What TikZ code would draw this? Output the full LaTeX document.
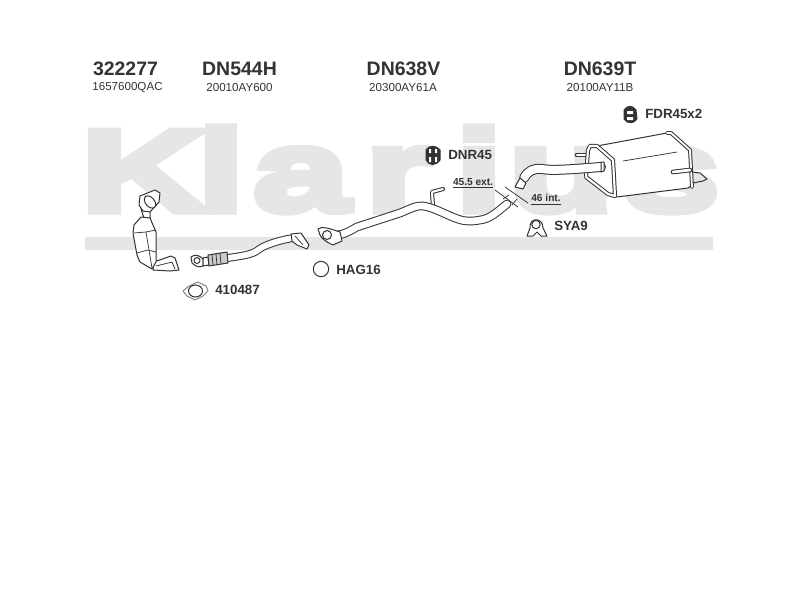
\documentclass[tikz,border=0pt]{standalone}
\usepackage{fontspec}
\usetikzlibrary{shapes.geometric}
\setmainfont{Liberation Sans}
\newfontfamily\wmfont[FakeStretch=1.52,FakeBold=7]{Liberation Sans Bold}
\definecolor{ink}{HTML}{333333}
\definecolor{wm}{HTML}{E6E6E6}
\tikzset{
  x=0.75pt,y=-0.75pt,
  pipe/.style={draw=ink,double=white,double distance=#1,line width=0.75pt,line cap=round,line join=round},
  pipe/.default=4pt,
  part/.style={draw=ink,line width=0.75pt,fill=white,line join=round},
  thin line/.style={draw=ink,line width=0.55pt},
  title/.style={anchor=center,text=ink,font=\fontsize{14.6}{16}\selectfont\bfseries,inner sep=0pt},
  sub/.style={anchor=center,text=ink,font=\fontsize{8.7}{10}\selectfont,inner sep=0pt},
  tag/.style={anchor=west,text=ink,font=\fontsize{10}{11}\selectfont\bfseries,inner sep=0pt},
  dim/.style={anchor=center,text=ink,font=\fontsize{7.6}{8}\selectfont\bfseries,inner sep=0pt}
}
\begin{document}
\begin{tikzpicture}
\useasboundingbox[fill=white] (0,0) rectangle (800,600);
% watermark
\node[anchor=base west,inner sep=0pt,text=wm,font=\wmfont\fontsize{86}{86}\selectfont] (mark) at (80,210.5) {K\kern-7pt l\kern5.8pt a\kern11.2pt r\kern16.6pt i\kern3.5pt u\kern7pt s};
\fill[wm] (85,237) rectangle (713,250);
% headings
\node[title] (t1) at (125.5,69) {322277};
\node[title] (t2) at (239.5,69) {DN544H};
\node[title] (t3) at (403.5,69) {DN638V};
\node[title] (t4) at (600,69) {DN639T};
\node[sub] (s1) at (127.5,88) {1657600QAC};
\node[sub] (s2) at (239.5,88) {20010AY600};
\node[sub] (s3) at (403,88) {20300AY61A};
\node[sub] (s4) at (600,88) {20100AY11B};
% catalytic converter
\draw[part] (141,209) -- (144,218) -- (150,218) -- (150,209) -- cycle;
\draw[part] (140,196) -- (155,190) -- (160,193) -- (159,202) -- (150,212) -- (143,211) -- (139,205) -- cycle;
\draw[part,rotate around={-50:(150,202)}] (150,202) ellipse (7 and 4.5);
\draw[part] (154,262) -- (171,256) -- (175,258) -- (179,270) -- (170,271) -- (153,270) -- cycle;
\draw[thin line] (156,266) -- (172,262) -- (175,269);
\draw[part] (141,217) -- (134,225) -- (133,233) -- (137,255) -- (140,262) -- (152,269) -- (156,262) -- (156,232) -- (150,218) -- cycle;
\draw[thin line] (134,233) -- (146,232) -- (156,230);
\draw[thin line] (146,232) -- (152,268);
\draw[thin line] (137,253) -- (148,250) -- (156,252);
% flex pipe
\draw[pipe=4.4pt] (228,258) .. controls (240,256) and (252,255) .. (258,250) .. controls (264,245) and (280,240) .. (293,238);
\draw[part] (291,234) -- (301,233) -- (309,245) -- (307,249) -- (297,245) -- (292,241) -- cycle;
\draw[thin line] (295,236) -- (303,245);
\draw[part] (191,257) .. controls (195,254) and (199,255) .. (203,259) -- (203,266) .. controls (199,268) and (195,266) .. (192,263) -- cycle;
\draw[part] (197,260.5) circle (3);
\draw[part] (203,258) -- (208,257) -- (209,265) -- (203,266) -- cycle;
\draw[part,fill=ink!25] (208,255) -- (227,252) -- (228,263) -- (209,266) -- cycle;
\draw[thin line] (212,254) -- (213,265) (216,254) -- (217,265) (220,253) -- (221,264);
% HAG16 + gasket
\node[draw=ink,line width=0.75pt,circle,minimum size=11.5pt,inner sep=0pt] (hag) at (321,269) {};
\node[tag] (hagt) at (336,270) {HAG16};
\draw[part,draw=ink!60] (183,291) -- (189,286) -- (198,282) -- (206,286) -- (208,291) -- (203,296) -- (195,300) -- (187,296) -- cycle;
\node[draw=ink,line width=0.75pt,ellipse,minimum width=10.5pt,minimum height=9pt,inner sep=0pt] (gas) at (195.5,291) {};
\node[tag] (gast) at (215,290) {410487};
% middle pipe
\draw[pipe=1.6pt] (433,207) -- (432,192) -- (443,189);
\draw[pipe=5pt] (338,235) .. controls (345,234) and (350,231) .. (357,227) -- (400,213) .. controls (410,209) and (417,205) .. (423,206) .. controls (432,207) and (445,214) .. (455,218) .. controls (462,221) and (470,222) .. (480,220) .. controls (490,219) and (497,212) .. (507,204);
\draw[part] (318,229) .. controls (322,226) and (328,228) .. (340,232) -- (342,241) -- (333,245) .. controls (326,242) and (321,238) .. (320,235) -- cycle;
\draw[part] (327,235) circle (4.5);
% rear pipe and silencer
\draw[pipe=2pt] (577,155) -- (592,155);
\draw[part] (597,146) -- (667,133) -- (671,133) -- (690,150) -- (692,185) -- (688,188) -- (617,197) -- (608,195) -- (590,160) -- cycle;
\draw[pipe=1.6pt,fill=white] (590,146) -- (597,146) -- (613,160) -- (615,196) -- (608,194) -- (586,177) -- (588,150) -- cycle;
\draw[pipe=1.4pt] (667,133) -- (671,133) -- (690,150) -- (692,187);
\draw[thin line] (623,161) -- (677,152);
\draw[pipe=6pt] (524,178) .. controls (528,171) and (533,168) .. (542,169) .. controls (552,171) and (575,169) .. (601,167);
\draw[part] (601,162) -- (604,162) -- (604,171) -- (601,172) -- cycle;
\draw[part] (515,187) -- (520,178) -- (526,183) -- (523,189) -- cycle;
\draw[pipe=2pt] (673,172) -- (690,170);
\draw[draw=ink,line width=0.75pt,line join=round] (692,172) -- (700,173) -- (707,179) -- (703,181) -- (693,183);
% cut marks
\coordinate (c1a) at (495,190); \coordinate (c1b) at (518,207);
\coordinate (c2a) at (505,187); \coordinate (c2b) at (528,203);
\draw[thin line] (c1a) -- (c1b) (c2a) -- (c2b);
\draw[thin line] (503,199) -- (509,195) (512,205) -- (517,199);
\node[dim] (ext) at (473,182) {45.5 ext.};
\draw[thin line] (453,187) -- (493,187);
\node[dim] (int) at (546,198) {46 int.};
\draw[thin line] (531,204) -- (561,204);
% DNR45
\draw[part,fill=ink] (426,150) .. controls (429,145) and (436,145) .. (440,150) -- (440,160) .. controls (436,166) and (429,166) .. (426,160) -- cycle;
\fill[white] (429,149) rectangle (431,153) (435,149) rectangle (437,153) (429,157) rectangle (431,162) (435,157) rectangle (437,162);
\node[tag] (dnr) at (448,155) {DNR45};
% FDR45x2
\draw[part,fill=ink] (624,110) .. controls (628,105) and (632,105) .. (636,110) -- (637,119) .. controls (634,124) and (627,124) .. (624,119) -- cycle;
\fill[white] (627,111) rectangle (633,114) (627,117) rectangle (633,120);
\node[tag] (fdr) at (645,114) {FDR45x2};
% SYA9
\draw[part] (527,236) -- (530,228) .. controls (529,217) and (543,217) .. (543,228) -- (547,236) -- (541,236) -- (537,232) -- (533,236) -- cycle;
\draw[part] (536,224.5) circle (4.2);
\node[tag] (sya) at (554,226) {SYA9};
\end{tikzpicture}
\end{document}
